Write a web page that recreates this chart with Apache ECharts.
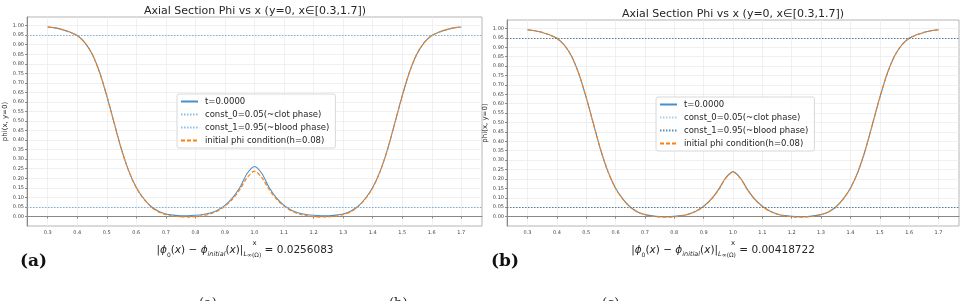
<!DOCTYPE html>
<html>
<head>
<meta charset="utf-8">
<script src="https://cdn.jsdelivr.net/npm/echarts@6/dist/echarts.min.js"></script>
<style>
html, body { margin: 0; padding: 0; background: #fff; }
#chart { width: 965px; height: 301px; }
</style>
</head>
<body>
<div id="chart"></div>
<script>
// x positions along the axial section
const xs = [0.3, 0.325, 0.35, 0.375, 0.4, 0.425, 0.45, 0.475, 0.5, 0.525, 0.55, 0.575, 0.6, 0.625, 0.65, 0.675, 0.7, 0.725, 0.75, 0.775, 0.8, 0.825, 0.85, 0.875, 0.9, 0.925, 0.95, 0.975, 1.0,
  1.025, 1.05, 1.075, 1.1, 1.125, 1.15, 1.175, 1.2, 1.225, 1.25, 1.275, 1.3, 1.325, 1.35, 1.375, 1.4, 1.425, 1.45, 1.475, 1.5, 1.525, 1.55, 1.575, 1.6, 1.625, 1.65, 1.675, 1.7]

// initial phi condition (h=0.08), same in both panels
const phiInit = [0.993, 0.988, 0.979, 0.966, 0.948, 0.912, 0.852, 0.758, 0.632, 0.490, 0.350, 0.235, 0.150, 0.092, 0.050, 0.024, 0.010, 0.002, -0.002, -0.003, -0.001, 0.004, 0.013, 0.029, 0.054, 0.090, 0.140, 0.203, 0.237,
  0.203, 0.140, 0.090, 0.054, 0.029, 0.013, 0.004, -0.001, -0.003, -0.002, 0.002, 0.010, 0.024, 0.050, 0.092, 0.150, 0.235, 0.350, 0.490, 0.632, 0.758, 0.852, 0.912, 0.948, 0.966, 0.979, 0.988, 0.993]

// t=0.0000, panel (a)
const phiA = [0.993, 0.988, 0.979, 0.966, 0.948, 0.912, 0.852, 0.758, 0.632, 0.490, 0.350, 0.236, 0.152, 0.094, 0.052, 0.027, 0.013, 0.007, 0.004, 0.004, 0.006, 0.010, 0.018, 0.033, 0.058, 0.096, 0.150, 0.225, 0.262,
  0.225, 0.150, 0.096, 0.058, 0.033, 0.018, 0.010, 0.006, 0.004, 0.004, 0.007, 0.013, 0.027, 0.052, 0.094, 0.152, 0.236, 0.350, 0.490, 0.632, 0.758, 0.852, 0.912, 0.948, 0.966, 0.979, 0.988, 0.993]

// t=0.0000, panel (b)
const phiB = [0.993, 0.988, 0.979, 0.966, 0.948, 0.912, 0.852, 0.758, 0.632, 0.490, 0.350, 0.235, 0.151, 0.093, 0.051, 0.025, 0.011, 0.004, 0.000, -0.001, 0.001, 0.005, 0.014, 0.030, 0.055, 0.091, 0.142, 0.205, 0.239,
  0.205, 0.142, 0.091, 0.055, 0.030, 0.014, 0.005, 0.001, -0.001, 0.000, 0.004, 0.011, 0.025, 0.051, 0.093, 0.151, 0.235, 0.350, 0.490, 0.632, 0.758, 0.852, 0.912, 0.948, 0.966, 0.979, 0.988, 0.993]

const const0 = 0.05
const const1 = 0.95

const xTicks = [0.3, 0.4, 0.5, 0.6, 0.7, 0.8, 0.9, 1.0, 1.1, 1.2, 1.3, 1.4, 1.5, 1.6, 1.7]
const yTicks = [0, 0.05, 0.1, 0.15, 0.2, 0.25, 0.3, 0.35, 0.4, 0.45, 0.5, 0.55, 0.6, 0.65, 0.7, 0.75, 0.8, 0.85, 0.9, 0.95, 1.0]

const legendNames = ['t=0.0000', 'const_0=0.05(~clot phase)', 'const_1=0.95(~blood phase)', 'initial phi condition(h=0.08)']
const errA = '0.0256083'
const errB = '0.00418722'

const pair = (ys) => xs.map((x, i) => [x, ys[i]])

const BLUE = '#4a8fc6'
const ORANGE = '#ff7f0e'
const TXT = '#262626'
const FONT = 'DejaVu Sans'

function xAxis(gi) {
    return {
        type: 'value', gridIndex: gi, min: 0.23, max: 1.77,
        name: 'x', nameLocation: 'middle', nameGap: 11,
        nameTextStyle: { fontSize: 7, color: TXT, fontFamily: FONT },
        axisLine: { show: true, lineStyle: { color: '#888', width: 1 } },
        axisTick: { show: true, customValues: xTicks, length: 2, lineStyle: { color: '#888' } },
        axisLabel: { customValues: xTicks, fontSize: 5, color: '#444', margin: 4, fontFamily: FONT,
            formatter: (v) => v.toFixed(1) },
        splitLine: { show: true, lineStyle: { color: '#ececec', width: 0.8 } }
    }
}

function yAxis(gi) {
    return {
        type: 'value', gridIndex: gi, min: -0.05, max: 1.045,
        name: 'phi(x, y=0)', nameLocation: 'middle', nameGap: 17,
        nameTextStyle: { fontSize: 7, color: TXT, fontFamily: FONT },
        axisLine: { show: true, lineStyle: { color: '#888', width: 1 } },
        axisTick: { show: true, customValues: yTicks, length: 2, lineStyle: { color: '#888' } },
        axisLabel: { customValues: yTicks, fontSize: 5, color: '#444', margin: 3, fontFamily: FONT,
            formatter: (v) => v.toFixed(2) },
        splitLine: { show: true, lineStyle: { color: '#ececec', width: 0.8 } }
    }
}

function panelSeries(p, gi, phiT, c0, c1, c0Line, c1Line) {
    return [
        {
            name: p + legendNames[0], type: 'line', xAxisIndex: gi, yAxisIndex: gi,
            data: pair(phiT), smooth: 0.3, symbol: 'none',
            lineStyle: { color: BLUE, width: 1.1 }, itemStyle: { color: BLUE }
        },
        {
            name: p + legendNames[1], type: 'line', xAxisIndex: gi, yAxisIndex: gi, data: [],
            symbol: 'none', lineStyle: { color: c0, width: 1, type: [1.5, 1.5] }, itemStyle: { color: c0 },
            markLine: { silent: true, symbol: 'none', label: { show: false },
                lineStyle: { color: c0Line, width: 1, type: [1.5, 1.5] }, data: [{ yAxis: const0 }] }
        },
        {
            name: p + legendNames[2], type: 'line', xAxisIndex: gi, yAxisIndex: gi, data: [],
            symbol: 'none', lineStyle: { color: c1, width: 1, type: [1.5, 1.5] }, itemStyle: { color: c1 },
            markLine: { silent: true, symbol: 'none', label: { show: false },
                lineStyle: { color: c1Line, width: 1, type: [1.5, 1.5] }, data: [{ yAxis: const1 }] }
        },
        {
            name: p + legendNames[3], type: 'line', xAxisIndex: gi, yAxisIndex: gi,
            data: pair(phiInit), smooth: 0.3, symbol: 'none',
            lineStyle: { color: ORANGE, width: 1.2, type: [4, 2] }, itemStyle: { color: ORANGE }
        }
    ]
}

function legend(p, left, top) {
    return {
        data: legendNames.map(n => p + n),
        formatter: (n) => n.slice(2),
        orient: 'vertical', left: left, top: top,
        itemWidth: 17, itemHeight: 9, itemGap: 4,
        itemStyle: { opacity: 0 },
        padding: [3, 6, 3, 3],
        backgroundColor: 'rgba(255,255,255,0.85)', borderColor: '#d8d8d8', borderWidth: 1, borderRadius: 2,
        textStyle: { fontSize: 8.5, color: TXT, fontFamily: FONT, padding: [0, 0, 0, 2] }
    }
}

const rich = {
    i: { fontStyle: 'italic', fontSize: 10.5, fontFamily: FONT, color: TXT, lineHeight: 15, verticalAlign: 'middle' },
    s: { fontSize: 6, fontFamily: FONT, color: TXT, lineHeight: 7, verticalAlign: 'bottom' },
    si: { fontSize: 6.5, fontStyle: 'italic', fontFamily: FONT, color: TXT, lineHeight: 7, verticalAlign: 'bottom' }
}
const formula = (v) => '|{i|ϕ}{s|0}({i|x}) − {i|ϕ}{si|initial}({i|x})|{si|L}{s|∞(Ω)} = ' + v

function titleAt(text, left, top, style) {
    return { text: text, left: left, top: top, textAlign: 'center', padding: 0, textStyle: style }
}

const chart = echarts.init(document.getElementById('chart'), null, { renderer: 'canvas' })
chart.setOption({
    animation: false,
    backgroundColor: '#ffffff',
    title: [
        titleAt('Axial Section Phi vs x (y=0, x∈[0.3,1.7])', 255, 6, { fontSize: 11, fontWeight: 'normal', color: TXT, fontFamily: FONT }),
        titleAt('Axial Section Phi vs x (y=0, x∈[0.3,1.7])', 733, 9, { fontSize: 11, fontWeight: 'normal', color: TXT, fontFamily: FONT }),
        titleAt(formula(errA), 245, 243, { fontSize: 10.5, fontWeight: 'normal', color: TXT, fontFamily: FONT, lineHeight: 15, rich: rich }),
        titleAt(formula(errB), 723, 243, { fontSize: 10.5, fontWeight: 'normal', color: TXT, fontFamily: FONT, lineHeight: 15, rich: rich }),
        { text: '(a)', left: 20, top: 253, padding: 0, textStyle: { fontSize: 17, fontWeight: 'bold', color: '#111', fontFamily: 'DejaVu Serif' } },
        { text: '(b)', left: 491, top: 253, padding: 0, textStyle: { fontSize: 17, fontWeight: 'bold', color: '#111', fontFamily: 'DejaVu Serif' } },
        { text: '(a)', left: 199, top: 297, padding: 0, textStyle: { fontSize: 13, fontWeight: 'normal', color: '#222', fontFamily: 'DejaVu Serif' } },
        { text: '(b)', left: 389, top: 297, padding: 0, textStyle: { fontSize: 13, fontWeight: 'normal', color: '#222', fontFamily: 'DejaVu Serif' } },
        { text: '(c)', left: 602, top: 297, padding: 0, textStyle: { fontSize: 13, fontWeight: 'normal', color: '#222', fontFamily: 'DejaVu Serif' } }
    ],
    legend: [legend('a:', 177, 94), legend('b:', 656, 97)],
    grid: [
        { left: 27, top: 17, right: 483, bottom: 75, show: true, borderColor: '#b5b5b5', borderWidth: 1 },
        { left: 507, top: 20, right: 6, bottom: 75, show: true, borderColor: '#b5b5b5', borderWidth: 1 }
    ],
    xAxis: [xAxis(0), xAxis(1)],
    yAxis: [yAxis(0), yAxis(1)],
    series: [
        ...panelSeries('a:', 0, phiA, '#8dbde2', '#8dbde2', '#7fb3dc', '#7fb3dc'),
        ...panelSeries('b:', 1, phiB, '#a9cde8', '#5d8db5', '#5b7d9a', '#5b7d9a')
    ]
})
</script>
</body>
</html>
